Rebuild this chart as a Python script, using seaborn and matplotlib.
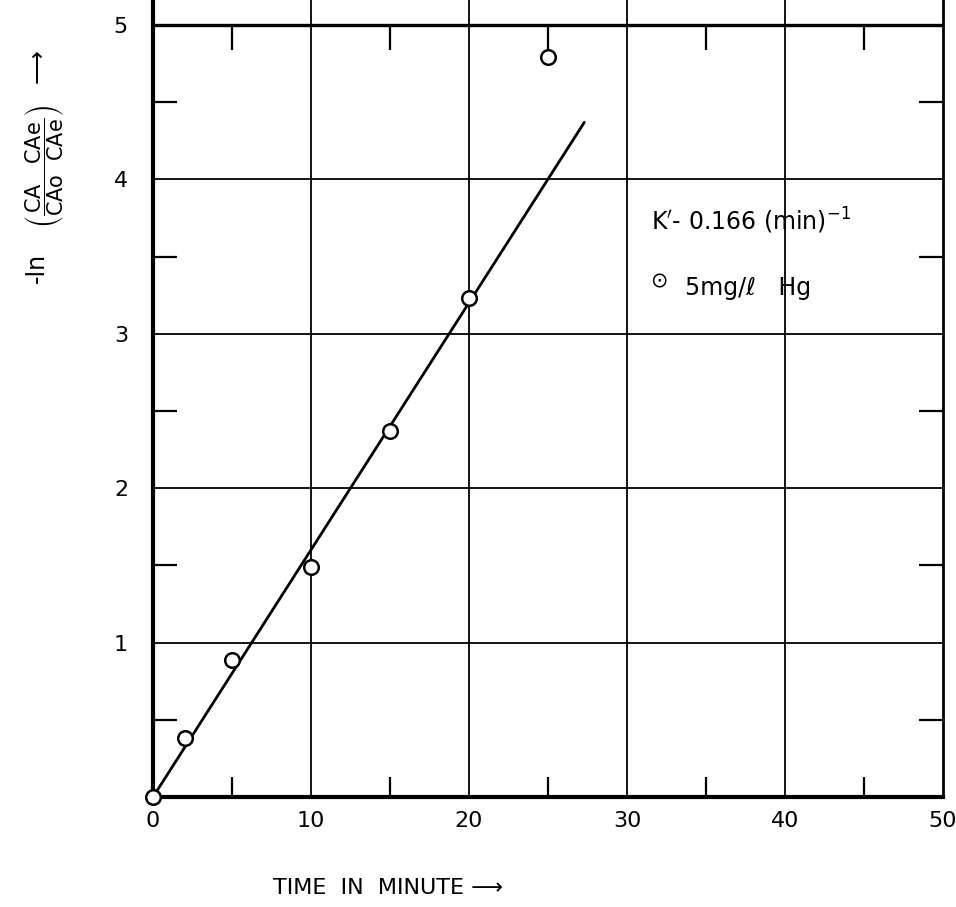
import matplotlib
matplotlib.use("Agg")
import matplotlib.pyplot as plt
import seaborn as sns
import pandas as pd

# Data
time_min = [0, 2, 5, 10, 15, 20, 25]
neg_ln = [0.0, 0.38, 0.89, 1.49, 2.37, 3.23, 4.79]
fit_time = [0, 27.3]
fit_val = [0, 4.37]
x_ticks = [0, 10, 20, 30, 40, 50]
x_labels = ["0", "10", "20", "30", "40", "50"]
y_ticks = [1, 2, 3, 4, 5]
y_labels = ["1", "2", "3", "4", "5"]
x_minor = [5, 15, 25, 35, 45]
y_minor = [0.5, 1.5, 2.5, 3.5, 4.5]

sns.set_theme(style="white")
plt.rcParams['font.family'] = ['DejaVu Sans']
plt.rcParams['mathtext.fontset'] = 'dejavusans'

fig = plt.figure(figsize=(9.56, 9.07), dpi=100)
ax = fig.add_axes([153 / 956, 1 - 797 / 907, 790 / 956, 797 / 907])
ax.set_xlim(0, 50)
ax.set_ylim(0, 5.162)

pts = pd.DataFrame({"t": time_min, "v": neg_ln})
fit = pd.DataFrame({"t": fit_time, "v": fit_val})

# grid lines
for xv in x_ticks[1:-1]:
    ax.axvline(xv, color="black", lw=1.3, zorder=1)
for yv in y_ticks[:-1]:
    ax.axhline(yv, color="black", lw=1.3, zorder=1)
ax.axhline(y_ticks[-1], color="black", lw=2.4, zorder=1)

# minor ticks (inward)
ax.vlines(x_minor, 5 - 0.16, 5, color="black", lw=1.6)
ax.vlines(x_minor, 0, 0.13, color="black", lw=1.6)
ax.hlines(y_minor, 0, 1.5, color="black", lw=1.6)
ax.hlines(y_minor, 50 - 1.5, 50, color="black", lw=1.6)

sns.lineplot(data=fit, x="t", y="v", ax=ax, color="black", lw=2.0, zorder=3)
sns.scatterplot(data=pts, x="t", y="v", ax=ax, marker="o", s=110,
                facecolor="white", edgecolor="black", linewidth=1.8,
                zorder=4, clip_on=False)

ax.set_xticks(x_ticks)
ax.set_xticklabels(x_labels)
ax.set_yticks(y_ticks)
ax.set_yticklabels(y_labels)
ax.tick_params(axis="both", length=0, labelsize=16, colors="black")
ax.tick_params(axis="x", pad=10)
ax.tick_params(axis="y", pad=18)
ax.set_xlabel("")
ax.set_ylabel("")

for side in ["left", "bottom"]:
    ax.spines[side].set_linewidth(3.0)
    ax.spines[side].set_color("black")
ax.spines["right"].set_linewidth(2.0)
ax.spines["right"].set_color("black")
ax.spines["top"].set_visible(False)

# annotations
ax.text(31.5, 3.67, r"K$'$- 0.166 (min)$^{-1}$", fontsize=17, color="black",
        va="baseline", ha="left")
ax.text(32.0, 3.34, "\u2299", fontsize=15, color="black", va="center", ha="center")
ax.text(33.7, 3.25, "5mg/\u2113   Hg", fontsize=17, color="black",
        va="baseline", ha="left")

# axis labels
fig.text(273 / 956, 1 - 888 / 907, "TIME  IN  MINUTE \u27f6", fontsize=16,
         va="center", ha="left", color="black")
fig.text(37 / 956, 1 - 268 / 907, "-ln", fontsize=17, rotation=90,
         va="center", ha="center", color="black")
fig.text(45 / 956, 1 - 166 / 907,
         r"$\left(\dfrac{\mathrm{CA}\ \ \ \mathrm{CAe}}{\mathrm{CAo}\ \ \mathrm{CAe}}\right)$",
         fontsize=15, rotation=90, va="center", ha="center", color="black")
fig.text(37 / 956, 1 - 66 / 907, "\u27f6", fontsize=17, rotation=90,
         va="center", ha="center", color="black")

fig.savefig("out.png", dpi=100)
